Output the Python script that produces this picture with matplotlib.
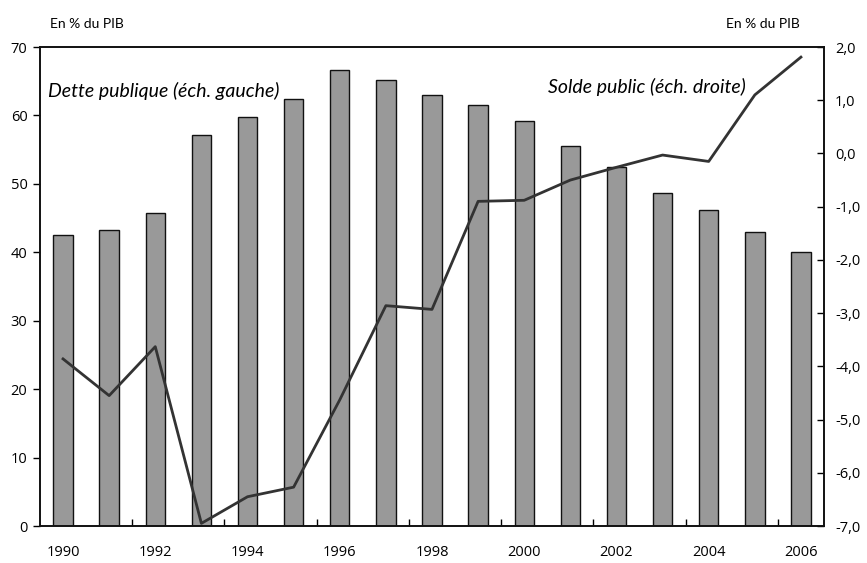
import numpy as np
import matplotlib.pyplot as plt

annees = list(range(1990, 2007))
dette = [42.5, 43.3, 45.7, 57.2, 59.8, 62.4, 66.6, 65.2, 63.0, 61.5, 59.2,
         55.5, 52.5, 48.6, 46.2, 43.0, 40.0]
solde = [-3.86, -4.55, -3.63, -6.95, -6.45, -6.27, -4.63, -2.86, -2.93,
         -0.90, -0.88, -0.50, -0.26, -0.03, -0.15, 1.10, 1.81]

gauche_ticks = [0, 10, 20, 30, 40, 50, 60, 70]
droite_ticks = [-7, -6, -5, -4, -3, -2, -1, 0, 1, 2]

plt.rcParams['font.family'] = ['Open Sans', 'DejaVu Sans']

fig = plt.figure(figsize=(8.67, 5.63), dpi=100)
ax = fig.add_axes([0.0461, 0.0657, 0.9043, 0.8508])
ax2 = ax.twinx()

x = np.arange(len(annees))
ax.bar(x, dette, width=0.42, color='#999999', edgecolor='#111111', linewidth=1.0, zorder=2)
ax2.plot(x, solde, color='#333333', linewidth=2.0, zorder=3)

ax.set_xlim(-0.5, len(annees) - 0.5)
ax.set_ylim(0, 70)
ax2.set_ylim(-7, 2)

ax.set_yticks(gauche_ticks)
ax.set_yticklabels([str(v) for v in gauche_ticks], fontsize=10.5)
ax.tick_params(axis='y', direction='out', length=5, width=1, pad=4)

ax2.set_yticks(droite_ticks)
ax2.set_yticklabels([f"{v:.1f}".replace('.', ',') for v in droite_ticks], fontsize=10.5)
ax2.tick_params(axis='y', direction='in', length=5, width=1, pad=8)

# étiquettes des années paires, traits entre catégories
ax.set_xticks(x[::2])
ax.set_xticklabels([str(a) for a in annees[::2]], fontsize=10.5)
ax.tick_params(axis='x', length=0, pad=14)
ax.set_xticks(np.arange(1.5, len(annees) - 1, 2), minor=True)
ax.tick_params(axis='x', which='minor', direction='in', length=5, width=1)

for a in (ax, ax2):
    for s in a.spines.values():
        s.set_linewidth(1.2)
        s.set_color('#111111')

fig.text(0.058, 0.958, "En % du PIB", family='Lato', fontsize=10, ha='left', va='center')
fig.text(0.923, 0.958, "En % du PIB", family='Lato', fontsize=10, ha='right', va='center')
fig.text(0.055, 0.838, "Dette publique (éch. gauche)", family='Lato', fontsize=14,
         style='italic', ha='left', va='center')
fig.text(0.860, 0.845, "Solde public (éch. droite)", family='Lato', fontsize=14,
         style='italic', ha='right', va='center')

fig.savefig("out.png", dpi=100)
